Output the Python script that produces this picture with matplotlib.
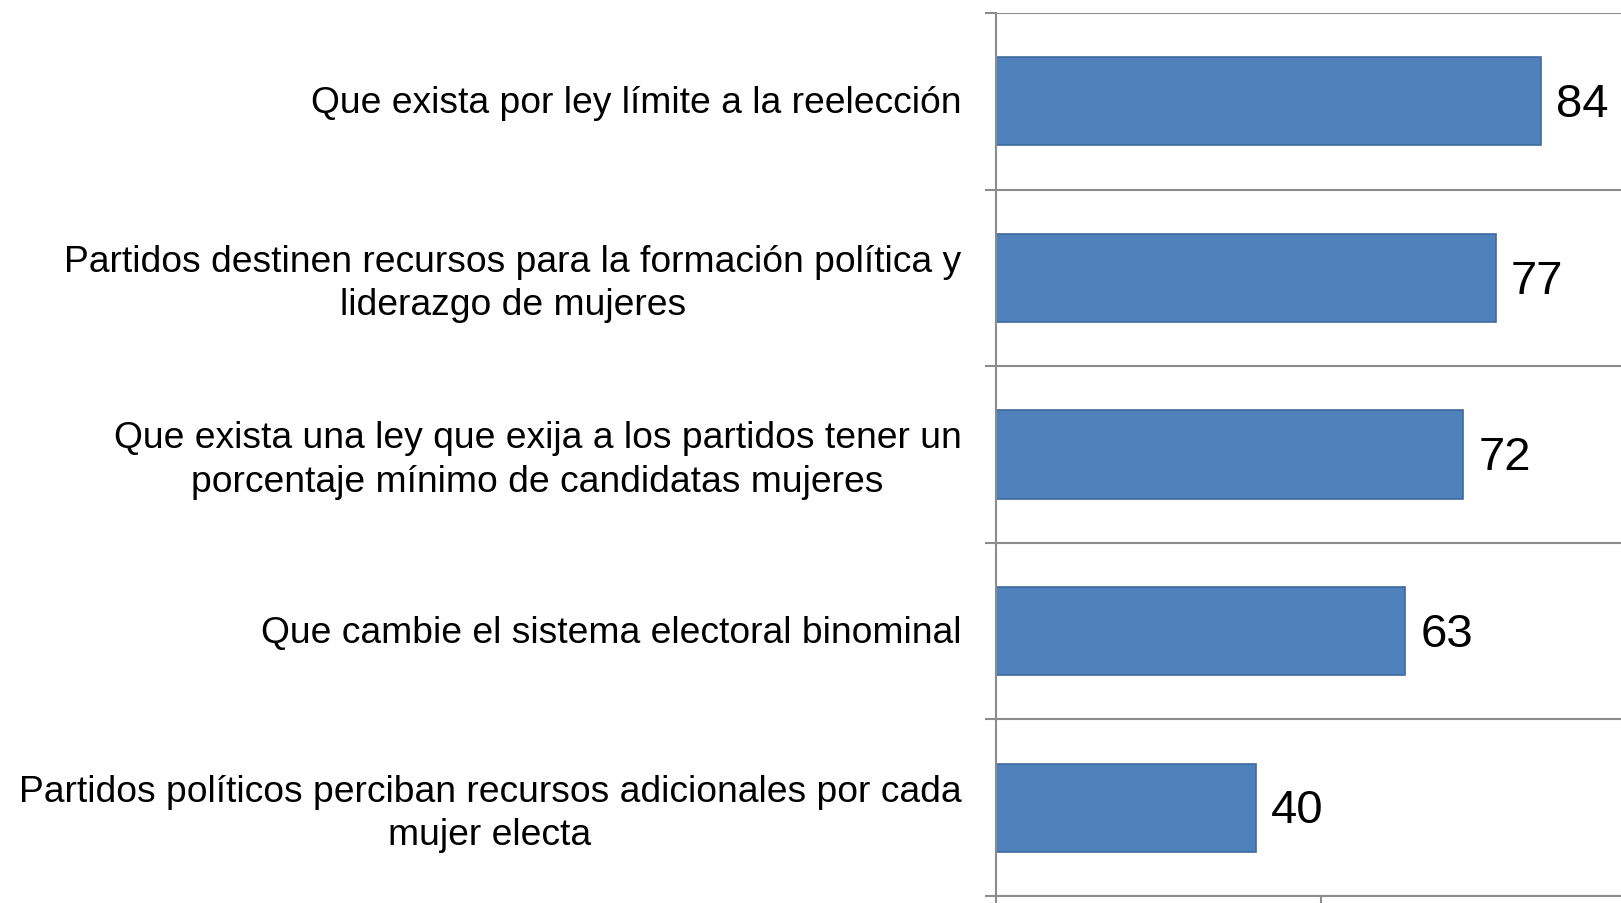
import numpy as np
import matplotlib
matplotlib.use('Agg')
import matplotlib.pyplot as plt
import matplotlib.transforms as mtransforms

plt.rcParams['font.family'] = ['Liberation Sans', 'DejaVu Sans']

##===========================================
# Data
##===========================================
labels = ['Que exista por ley límite a la reelección',
          'Partidos destinen recursos para la formación política y\nliderazgo de mujeres',
          'Que exista una ley que exija a los partidos tener un\nporcentaje mínimo de candidatas mujeres',
          'Que cambie el sistema electoral binominal',
          'Partidos políticos perciban recursos adicionales por cada\nmujer electa']
values = [84, 77, 72, 63, 40]

bar_color = '#4F81BD'
edge_color = '#3F6A9E'
line_color = '#8C8C8C'

fig = plt.figure(figsize=(16.21, 9.04), dpi=100)
# axes runs past the right edge of the figure (chart is cropped there)
ax = fig.add_axes([996 / 1621, 7 / 904, 649 / 1621, 883 / 904])

ind = np.arange(len(values))
bars = ax.barh(ind, values, height=0.5, color=bar_color, edgecolor=edge_color, linewidth=1.2)

ax.set_xlim(0, 100)
ax.set_ylim(len(values) - 0.5, -0.5)

# value labels
for i, v in enumerate(values):
    ax.annotate(str(v), xy=(v, i), xytext=(11, -2), textcoords='offset points',
                ha='left', va='center', fontsize=34, color='black')

# category boundaries as major ticks + gridlines, labels on minor ticks
ax.set_yticks(np.arange(-0.5, len(values), 1.0))
ax.set_yticklabels([])
ax.set_yticks(ind, minor=True)
ax.set_yticklabels(labels, minor=True, fontsize=26.8, ha='right',
                   multialignment='center', linespacing=1.3)
ax.tick_params(axis='y', which='major', length=8, width=1.5, color=line_color, direction='out')
ax.tick_params(axis='y', which='minor', length=0, pad=25)
ax.yaxis.grid(True, which='major', color=line_color, linewidth=1.5)
ax.set_axisbelow(True)

# nudge category labels up a little
shift = mtransforms.ScaledTranslation(0, 3 / 100, fig.dpi_scale_trans)
for lab in ax.get_yticklabels(minor=True):
    lab.set_transform(lab.get_transform() + shift)

ax.set_xticks([0, 50, 100])
ax.set_xticklabels([])
ax.tick_params(axis='x', length=12, width=1.5, color=line_color, direction='out')

for s in ['top', 'right']:
    ax.spines[s].set_visible(False)
for s in ['left', 'bottom']:
    ax.spines[s].set_color(line_color)
    ax.spines[s].set_linewidth(1.5)

plt.savefig('out.png', dpi=100)
